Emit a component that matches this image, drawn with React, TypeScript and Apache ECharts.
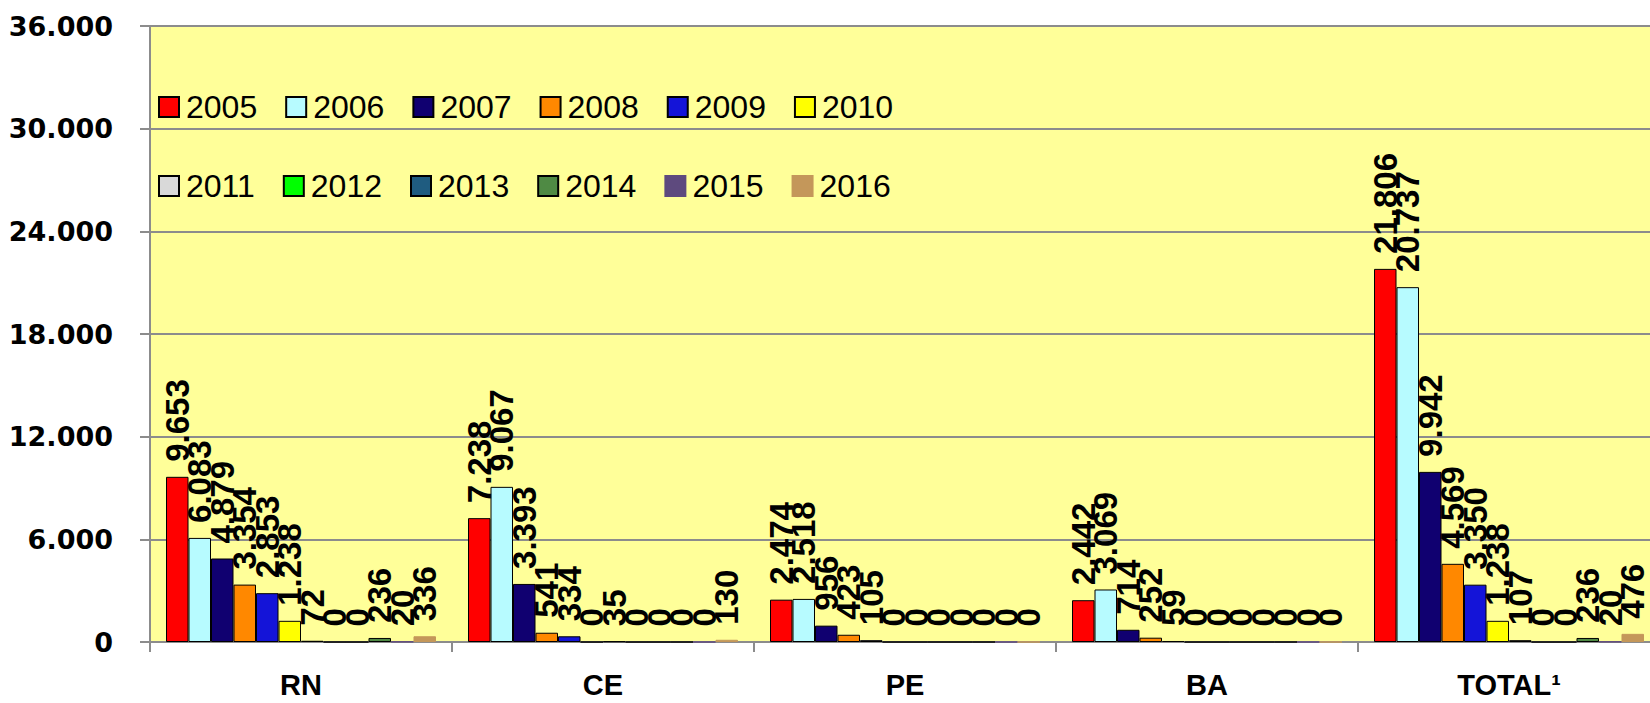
import React, { useEffect, useRef } from "react";
import * as echarts from "echarts";

const categories = ["RN", "CE", "PE", "BA", "TOTAL¹"];
const years = ["2005", "2006", "2007", "2008", "2009", "2010", "2011", "2012", "2013", "2014", "2015", "2016"];
const colors = ["#FF0000", "#B7FBFF", "#100070", "#FF8800", "#1414D8", "#FFFF00", "#D9D9D9", "#00FF00", "#1F5C80", "#4F8A44", "#5E4A7E", "#C4975A"];

const v2005 = [9653, 7238, 2474, 2442, 21806];
const v2006 = [6083, 9067, 2518, 3069, 20737];
const v2007 = [4879, 3393, 956, 714, 9942];
const v2008 = [3354, 541, 423, 252, 4569];
const v2009 = [2853, 334, 105, 59, 3350];
const v2010 = [1238, 0, 0, 0, 1238];
const v2011 = [72, 35, 0, 0, 107];
const v2012 = [0, 0, 0, 0, 0];
const v2013 = [0, 0, 0, 0, 0];
const v2014 = [236, 0, 0, 0, 236];
const v2015 = [20, 0, 0, 0, 20];
const v2016 = [336, 130, 0, 0, 476];
const seriesValues = [v2005, v2006, v2007, v2008, v2009, v2010, v2011, v2012, v2013, v2014, v2015, v2016];

const fmt = (n: number) => String(Math.round(n)).replace(/\B(?=(\d{3})+(?!\d))/g, ".");

export default function App() {
  const ref = useRef<HTMLDivElement>(null);
  useEffect(() => {
    if (!ref.current) return;
    const chart = echarts.init(ref.current, undefined, { renderer: "svg" });
    const series = years.map((y, i) => ({
      name: y,
      type: "bar",
      data: seriesValues[i],
      barGap: "0%",
      barCategoryGap: "10.6%",
      itemStyle: {
        color: colors[i],
        borderColor: i >= 10 ? colors[i] : "#000000",
        borderWidth: 1,
      },
      label: {
        show: true,
        position: "top",
        rotate: 90,
        align: "left",
        verticalAlign: "middle",
        distance: 15,
        color: "#000",
        fontFamily: "Liberation Sans",
        fontWeight: "bold",
        fontSize: 33,
        formatter: (p: any) => fmt(p.value),
      },
    }));
    const legendCommon = {
      orient: "horizontal",
      left: 153,
      itemWidth: 20,
      itemHeight: 20,
      itemGap: 28,
      icon: "rect",
      textStyle: { color: "#000", fontFamily: "Liberation Sans", fontSize: 32, padding: [0, 0, 0, 2] },
    };
    chart.setOption({
      animation: false,
      backgroundColor: "#ffffff",
      grid: {
        left: 150,
        right: 0,
        top: 26,
        bottom: 61,
        show: true,
        backgroundColor: "#FFFF99",
        borderWidth: 0,
      },
      legend: [
        { ...legendCommon, top: 86, data: years.slice(0, 6) },
        { ...legendCommon, top: 165, data: years.slice(6) },
      ],
      xAxis: {
        type: "category",
        data: categories,
        axisLine: { show: true, lineStyle: { color: "#8c8c8c", width: 2 } },
        axisTick: { show: true, length: 10, lineStyle: { color: "#8c8c8c", width: 2 } },
        axisLabel: {
          color: "#000",
          fontFamily: "Liberation Sans",
          fontWeight: "bold",
          fontSize: 29,
          margin: 28,
        },
      },
      yAxis: {
        type: "value",
        min: 0,
        max: 36000,
        interval: 6000,
        axisLine: { show: true, lineStyle: { color: "#8c8c8c", width: 2 } },
        axisTick: { show: true, length: 10, lineStyle: { color: "#8c8c8c", width: 2 } },
        splitLine: { show: true, lineStyle: { color: "#8c8c8c", width: 2 } },
        axisLabel: {
          color: "#000",
          fontFamily: "DejaVu Sans",
          fontWeight: "bold",
          fontSize: 27,
          margin: 37,
          formatter: (v: number) => fmt(v),
        },
      },
      series,
    });
    return () => chart.dispose();
  }, []);
  return (
    <div
      ref={ref}
      style={{ position: "fixed", left: 0, top: 0, width: 1660, height: 703 }}
    />
  );
}
